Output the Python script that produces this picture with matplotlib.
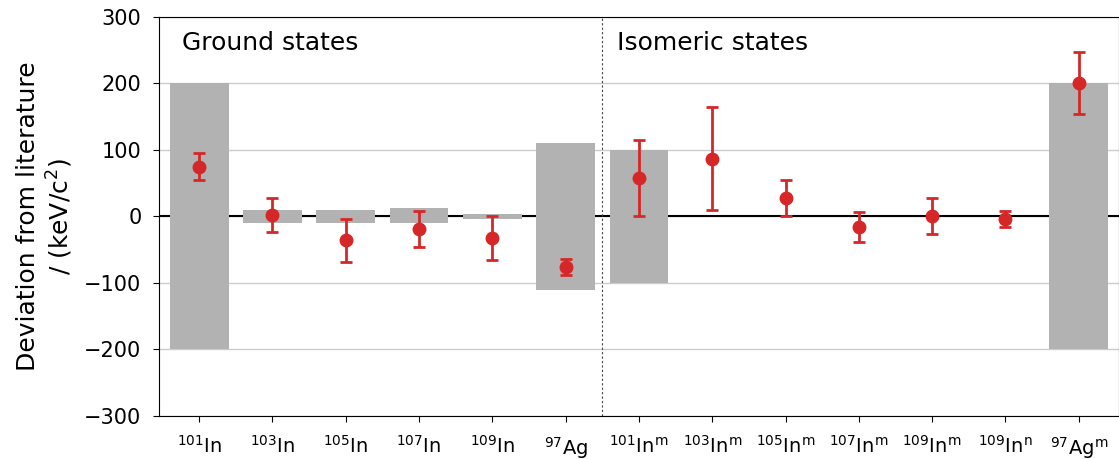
import matplotlib.pyplot as plt
import numpy as np

# Nuclides: ground states, then isomeric states
labels = [r'$^{101}$In', r'$^{103}$In', r'$^{105}$In', r'$^{107}$In', r'$^{109}$In', r'$^{97}$Ag',
          r'$^{101}$In$^{\rm m}$', r'$^{103}$In$^{\rm m}$', r'$^{105}$In$^{\rm m}$',
          r'$^{107}$In$^{\rm m}$', r'$^{109}$In$^{\rm m}$', r'$^{109}$In$^{\rm n}$',
          r'$^{97}$Ag$^{\rm m}$']

# literature uncertainty band (lower, upper) in keV/c^2
lit_low = [-200, -10, -10, -10, -4, -110, -100, 0, 0, 0, 0, 0, -200]
lit_high = [200, 10, 10, 12, 4, 110, 100, 0, 0, 0, 0, 0, 200]

# measured deviation and its error
deviation = [75, 2, -36, -19, -32, -76, 58, 87, 28, -16, 1, -4, 201]
dev_err = [20, 26, 32, 27, 33, 12, 57, 77, 27, 22, 27, 12, 47]

x = np.arange(len(labels))
lit_low = np.array(lit_low)
lit_high = np.array(lit_high)

fig = plt.figure(figsize=(11.19, 4.59), dpi=100)
ax = fig.add_axes([0.142, 0.094, 0.858, 0.869])

ax.axhline(0, color='black', linewidth=1.5, zorder=1)
ax.bar(x, lit_high - lit_low, bottom=lit_low, width=0.8, color='#b2b2b2', zorder=2)
ax.errorbar(x, deviation, yerr=dev_err, fmt='o', color='#d62728', markersize=9,
            elinewidth=2, capsize=4, capthick=2, zorder=3)

ax.axvline(5.5, color='#444444', linestyle=(0, (2, 2)), linewidth=0.8, zorder=1)

ax.set_xlim(-0.55, 12.55)
ax.set_ylim(-300, 300)
ax.set_yticks(np.arange(-300, 301, 100))
ax.yaxis.grid(True, color='#cccccc', linewidth=1)
ax.set_axisbelow(True)
ax.set_xticks(x)
ax.set_xticklabels(labels, fontsize=14)
ax.tick_params(axis='y', labelsize=15, length=4.5, pad=8)
ax.tick_params(axis='x', length=4.5, pad=9)
ax.set_ylabel('Deviation from literature\n/ (keV/c$^2$)', fontsize=18, labelpad=7)

ax.text(0.024, 0.935, 'Ground states', transform=ax.transAxes, fontsize=18, va='center')
ax.text(0.477, 0.935, 'Isomeric states', transform=ax.transAxes, fontsize=18, va='center')

plt.savefig('out.png')
